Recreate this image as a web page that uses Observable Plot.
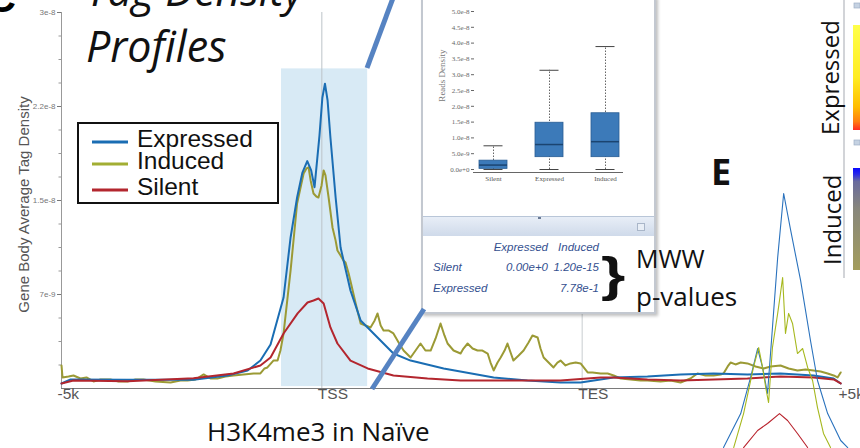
<!DOCTYPE html>
<html><head><meta charset="utf-8">
<script src="https://cdn.jsdelivr.net/npm/d3@7"></script>
<script src="https://cdn.jsdelivr.net/npm/@observablehq/plot@0.6"></script>
<style>
html,body{margin:0;padding:0;background:#fff;}
#wrap{position:relative;width:860px;height:448px;overflow:hidden;font-family:"Liberation Sans",Arial,sans-serif;background:#fff;}
</style></head><body><div id="wrap"></div>
<script>
// ---------- main profile data (x: 0=-5k, 100=TSS, 200=TES, 300=+5k ; v in 1e-9 units)
const xLabelPos = [0, 100, 200, 300];
const xLabelText = ["-5k", "TSS", "TES", "+5k"];
const yTicks = [7.5, 15, 22.5, 30];
const yTickLabels = ["7e-9", "1.5e-8", "2.2e-8", "3e-8"];
const yMinorTicks = [1.875,3.75,5.625,9.375,11.25,13.125,16.875,18.75,20.625,24.375,26.25,28.125];
const seriesNames = ["Expressed", "Induced", "Silent"];
const seriesColors = ["#1a6db3", "#9b9a35", "#b3262e"];
const legendColors = ["#1a6db3", "#a2ae33", "#b3262e"];
const highlight = [{x1: 84.5, x2: 117.6, y1: 0.15, y2: 25.5}];

const expressed = [[0,0.40],[3.5,0.72],[25,0.69],[50.7,0.69],[63.8,1.04],[71.5,1.44],[76.4,2.23],[80.3,3.51],[85.3,7.26],[88,12.05],[90.5,15.24],[92.5,17.2],[94.4,18.14],[95.9,17.4],[97.2,16.06],[99.1,20.19],[100.2,23.2],[101.2,24.32],[102.2,23.0],[103.3,20.03],[105.3,15.24],[107.2,11.25],[111,7.82],[114.9,5.43],[121.3,4.09],[127.5,2.79],[134.1,2.23],[146.8,1.60],[166,0.88],[179,0.64],[191.7,0.48],[199.4,0.48],[212.1,0.88],[225.1,0.96],[237.8,1.12],[250.5,1.20],[263.5,1.12],[276.2,1.20],[288.9,1.04],[296.6,0.80],[299.3,0.40]];

const silent = [[0,0.40],[4.6,0.64],[25.4,0.58],[50.7,0.82],[66.1,1.20],[76.4,1.84],[80.3,2.47],[85.3,4.39],[90.7,5.99],[94.5,6.86],[96.8,7.02],[98.7,7.18],[100.7,6.78],[103.3,4.87],[106,3.59],[111,2.23],[117.6,1.60],[127.5,1.04],[140.6,0.80],[153.3,0.64],[179,0.64],[191.7,0.64],[207.1,0.88],[212.1,0.88],[225.1,0.72],[237.8,0.64],[263.5,0.80],[276.2,0.96],[288.9,0.88],[296.6,0.72],[299.3,0.40]];

const induced = [[0,1.84],[0.4,0.88],[2.7,0.96],[4.6,1.04],[7.3,0.80],[9.6,0.88],[12.3,0.56],[15,0.72],[18.8,0.72],[21.9,0.56],[25.4,0.56],[28.4,0.72],[31.5,0.72],[36.1,0.56],[41.9,0.48],[45.7,0.64],[48.4,0.64],[51.5,0.72],[54.6,1.12],[57.2,0.80],[59.9,0.80],[63,0.96],[66.1,1.04],[69.9,1.12],[73.8,1.20],[76.4,1.20],[78,1.60],[79.1,1.68],[81.4,2.23],[83,2.23],[84.1,3.03],[85.3,4.39],[88,9.42],[90.5,14.76],[93,17.16],[94.1,17.56],[94.9,17.64],[95.7,16.6],[96.8,15.56],[97.9,15.32],[98.7,15.24],[99.9,16.2],[100.7,17.4],[101.4,17.0],[102.6,15.24],[104.1,12.85],[105.3,11.8],[106,11.01],[107.2,10.61],[108.3,10.21],[109.1,10.05],[110.3,9.18],[111.4,8.22],[113,6.78],[114.9,5.19],[116.8,5.03],[118.7,4.87],[120.3,5.43],[121.4,5.99],[122.6,5.03],[123.7,4.63],[125.6,4.63],[127.5,4.39],[129.5,3.67],[131.4,3.03],[134.1,2.47],[136,3.03],[137.9,3.59],[139.8,3.03],[141.8,3.03],[143.7,3.99],[145.6,5.19],[147.1,4.23],[148.3,3.59],[150.6,3.03],[153.3,2.79],[154.4,3.19],[156,3.59],[157.9,3.19],[159.8,3.03],[161.7,3.03],[163.7,2.79],[164.8,2.07],[166,1.44],[167.5,2.07],[168.7,2.47],[170.2,3.03],[171.3,3.59],[172.5,2.87],[173.6,2.23],[175.6,2.63],[177.5,3.03],[179.4,3.67],[180.9,4.23],[182.9,4.07],[184,3.19],[185.2,2.47],[187.1,2.07],[189,1.68],[190.5,2.07],[191.7,2.23],[193.6,1.84],[195.5,2.00],[197.5,2.07],[199.4,2.00],[200.9,1.60],[202.1,1.28],[204,1.28],[207.1,1.20],[209.8,1.20],[212.1,1.04],[214.8,0.80],[218.6,0.72],[222.4,0.64],[225.1,0.64],[230.1,0.56],[234,0.64],[237.8,0.48],[241.6,0.80],[244.3,1.20],[247.4,1.04],[250.5,1.04],[253.2,1.12],[254.3,1.20],[255.9,1.76],[257,2.07],[258.9,1.92],[260.9,2.07],[263.5,2.00],[266.6,1.76],[269.7,1.60],[272.4,1.76],[276.2,1.84],[279.3,1.60],[282.7,1.44],[285.8,1.52],[288.9,1.44],[291.6,1.36],[294.3,1.20],[296.6,1.04],[298.1,0.88],[299.3,1.28]];

// ---------- overlapping panel E profile lines (same scales)
const eExpressed = [[254.3,-4.71],[260.9,-2.0],[264.7,0.88],[267.4,3.19],[269.3,1.68],[271.2,-0.40],[273.1,4.87],[275.1,10.45],[277.4,15.56],[280.1,12.61],[283.9,8.62],[287.7,3.83],[290.4,0.64],[294.3,-2.0],[299.3,-4.15],[302,-4.71]];
const eInduced = [[258.2,-4.71],[262,-2.0],[265.8,1.68],[267.8,3.27],[269.3,1.68],[270.5,0.08],[271.6,-1.12],[273.1,3.27],[275.1,5.99],[275.8,7.02],[277,8.86],[278.1,4.39],[279.3,5.99],[280.8,5.19],[282.7,2.79],[284.7,3.19],[286.6,1.68],[288.5,0.64],[290.4,-1.52],[292.7,-3.59],[295.4,-4.71]];
const eSilent = [[262,-4.71],[267.4,-3.35],[271.2,-2.79],[275.8,-2.0],[278.9,-2.55],[282.7,-3.59],[286.6,-4.71]];
const eColors = ["#2a72bd", "#a6b81e", "#b8222c"];

// ---------- inset box plot data (values in 1e-8)
const boxCats = ["Silent", "Expressed", "Induced"];
const boxMin = [0, 0, 0];
const boxQ1 = [0.02, 0.39, 0.39];
const boxMed = [0.14, 0.79, 0.88];
const boxQ3 = [0.28, 1.48, 1.78];
const boxMax = [0.75, 3.14, 3.89];
const boxTicks = [0, 0.5, 1, 1.5, 2, 2.5, 3, 3.5, 4, 4.5, 5];
const boxTickLabels = ["0.0e+0","5.0e-9","1.0e-8","1.5e-8","2.0e-8","2.5e-8","3.0e-8","3.5e-8","4.0e-8","4.5e-8","5.0e-8"];

// ---------- p-value table
const pCols = ["Expressed", "Induced"];
const pRows = ["Silent", "Expressed"];
const pVals = [["0.00e+0", "1.20e-15"], ["", "7.78e-1"]];

const titleLines = ["Tag Density", "Profiles"];
const heatLabels = ["Expressed", "Induced"];

// ---------- build
const rows = a => a.map(([x, v]) => ({x, v}));
const yLabelMap = new Map(yTicks.map((t, i) => [t, yTickLabels[i]]));
const xLabels = xLabelPos.map((x, i) => ({x, label: xLabelText[i]}));
const seriesData = [expressed, induced, silent];
const drawOrder = [1, 0, 2];
const eData = [eExpressed, eInduced, eSilent];

const mainPlot = Plot.plot({
  width: 860, height: 448,
  marginLeft: 61, marginRight: 18, marginTop: 12, marginBottom: 60,
  style: {fontFamily: "'Liberation Sans', Arial, sans-serif", background: "transparent"},
  x: {domain: [0, 300], axis: null},
  y: {domain: [0, 30], axis: null},
  marks: [
    Plot.rect(highlight, {x1: "x1", x2: "x2", y1: "y1", y2: "y2", fill: "#d8eaf5"}),
    Plot.ruleX([100], {stroke: "#bcc3c8", strokeWidth: 1}),
    Plot.ruleX([200], {stroke: "#c8cdd0", strokeWidth: 1}),
    Plot.ruleX([0], {stroke: "#999", strokeWidth: 1}),
    Plot.axisY({ticks: yTicks, tickFormat: d => yLabelMap.get(d), tickSize: 4, tickPadding: 2, fontSize: 8, color: "#777"}),
    Plot.axisY({ticks: yMinorTicks, tickFormat: () => "", tickSize: 2.5, color: "#999"}),
    Plot.text(["Gene Body Average Tag Density"], {frameAnchor: "left", textAnchor: "middle", rotate: -90, dx: -37, dy: 4, fontSize: 15, fill: "#555"}),
    ...drawOrder.map(i => Plot.line(rows(seriesData[i]), {x: "x", y: "v", stroke: seriesColors[i], strokeWidth: 2})),
    Plot.ruleY([0], {stroke: "#7a7a7a", strokeWidth: 1.2}),
    Plot.text(xLabels, {x: "x", text: "label", frameAnchor: "bottom", dy: 10, dx: -4, textAnchor: "start", fontSize: 15.5, fill: "#555"}),
    ...eData.map((d, i) => Plot.line(rows(d), {x: "x", y: "v", stroke: eColors[i], strokeWidth: 1.1}))
  ]
});
d3.select(mainPlot).style("position", "absolute").style("left", "0px").style("top", "0px");

const wrap = d3.select("#wrap");
wrap.node().appendChild(mainPlot);

// ---------- inset panel
const inset = wrap.append("div")
  .style("position", "absolute").style("left", "421px").style("top", "-4px")
  .style("width", "235px").style("height", "318px").style("box-sizing", "border-box")
  .style("border", "2px solid #c3c8d0").style("background", "#fff")
  .style("box-shadow", "2px 2px 3px rgba(0,0,0,0.25)");

const boxData = boxCats.map((c, i) => ({cat: c, min: boxMin[i], q1: boxQ1[i], med: boxMed[i], q3: boxQ3[i], max: boxMax[i]}));
const boxLabelMap = new Map(boxTicks.map((t, i) => [t, boxTickLabels[i]]));
const boxPlot = Plot.plot({
  width: 229, height: 215,
  marginLeft: 51, marginRight: 29, marginTop: 11, marginBottom: 46,
  style: {fontFamily: "'Liberation Serif', 'Times New Roman', serif", background: "transparent"},
  x: {type: "band", domain: boxCats, paddingInner: 0.5, paddingOuter: 0.08, axis: null},
  y: {domain: [0, 5], axis: null},
  marks: [
    Plot.axisY({ticks: boxTicks, tickFormat: d => boxLabelMap.get(d), tickSize: 3, tickPadding: 2, fontSize: 7, color: "#666", label: null}),
    Plot.text(["Reads Density"], {frameAnchor: "left", textAnchor: "middle", rotate: -90, dx: -32, dy: -15, fontSize: 9, fill: "#777"}),
    Plot.ruleX(boxData, {x: "cat", y1: "min", y2: "max", stroke: "#555", strokeWidth: 0.9, strokeDasharray: "1.5,1.5"}),
    Plot.tickY(boxData, {x: "cat", y: "max", stroke: "#444", strokeWidth: 1, insetLeft: 4.5, insetRight: 4.5}),
    Plot.tickY(boxData, {x: "cat", y: "min", stroke: "#444", strokeWidth: 1, insetLeft: 4.5, insetRight: 4.5}),
    Plot.barY(boxData, {x: "cat", y1: "q1", y2: "q3", fill: "#3c7ab9", stroke: "#285d94", strokeWidth: 0.8}),
    Plot.tickY(boxData, {x: "cat", y: "med", stroke: "#1b4470", strokeWidth: 1.5}),
    Plot.ruleY([0], {dy: 3, stroke: "#666", strokeWidth: 1, insetLeft: -1}),
    Plot.axisX({tickSize: 0, tickPadding: 7, fontSize: 7, color: "#555", label: null})
  ]
});
d3.select(boxPlot).style("position", "absolute").style("left", "0px").style("top", "2px");
inset.node().appendChild(boxPlot);
// separator band of the inset window
inset.append("div")
  .style("position", "absolute").style("left", "0px").style("top", "218px")
  .style("width", "100%").style("height", "19px")
  .style("background", "linear-gradient(#e8eef7,#cfdaea)")
  .style("border-top", "1px solid #b9c6d8");
inset.append("div")
  .style("position", "absolute").style("left", "115px").style("top", "219px")
  .style("width", "3px").style("height", "2px").style("background", "#6a7a95");
inset.append("div")
  .style("position", "absolute").style("left", "214px").style("top", "225px")
  .style("width", "6px").style("height", "6px").style("background", "#e8eef6")
  .style("border", "1px solid #a9b6c9");

// ---------- overlay annotations
const svg = d3.create("svg").attr("width", 860).attr("height", 448)
  .style("position", "absolute").style("left", "0px").style("top", "0px");
const defs = svg.append("defs");
const gExp = defs.append("linearGradient").attr("id", "gExp").attr("x1", 0).attr("y1", 0).attr("x2", 0).attr("y2", 1);
[[0, "#ffff4a"], [0.5, "#ffec22"], [0.78, "#ffbd00"], [0.92, "#ff7d10"], [1, "#ff2a22"]].forEach(([o, c]) => gExp.append("stop").attr("offset", o).attr("stop-color", c));
const gInd = defs.append("linearGradient").attr("id", "gInd").attr("x1", 0).attr("y1", 0).attr("x2", 0).attr("y2", 1);
[[0, "#0808ff"], [0.06, "#2828e8"], [0.13, "#686a9e"], [0.4, "#88877c"], [1, "#a39d5c"]].forEach(([o, c]) => gInd.append("stop").attr("offset", o).attr("stop-color", c));

// panel letter C and title
svg.append("text").attr("x", -13).attr("y", 12).attr("font-family", "'Liberation Sans', Arial").attr("font-weight", "bold").attr("font-size", 40).text("C");
titleLines.forEach((t, i) => svg.append("text").attr("x", 86).attr("y", 6 + i * 56)
  .attr("font-family", "'Open Sans', sans-serif").attr("font-style", "italic").attr("font-size", 43).attr("fill", "#111").text(t));

// legend
svg.append("rect").attr("x", 78).attr("y", 123).attr("width", 200).attr("height", 80)
  .attr("fill", "#fff").attr("stroke", "#111").attr("stroke-width", 2);
const legY = [142, 164, 190], legTextY = [147, 169, 195];
seriesNames.forEach((n, i) => {
  svg.append("line").attr("x1", 92).attr("x2", 128).attr("y1", legY[i]).attr("y2", legY[i]).attr("stroke", legendColors[i]).attr("stroke-width", 3);
  svg.append("text").attr("x", 137).attr("y", legTextY[i]).attr("font-family", "'Liberation Sans', Arial").attr("font-size", 24.5).attr("fill", "#111").text(n);
});

// callout lines
svg.append("line").attr("x1", 367).attr("y1", 68).attr("x2", 393).attr("y2", -2).attr("stroke", "#5683c2").attr("stroke-width", 5);
svg.append("line").attr("x1", 372).attr("y1", 389).attr("x2", 424).attr("y2", 309).attr("stroke", "#5683c2").attr("stroke-width", 5);

// p-value table
const pFont = g => g.attr("font-family", "'Liberation Sans', Arial").attr("font-style", "italic").attr("font-size", 11.5).attr("fill", "#34508f");
const colRight = [548, 599];
pCols.forEach((c, j) => pFont(svg.append("text")).attr("x", colRight[j]).attr("y", 251).attr("text-anchor", "end").text(c));
const rowY = [271, 292];
pRows.forEach((r, i) => {
  pFont(svg.append("text")).attr("x", 433).attr("y", rowY[i]).text(r);
  pVals[i].forEach((v, j) => { if (v) pFont(svg.append("text")).attr("x", colRight[j]).attr("y", rowY[i]).attr("text-anchor", "end").text(v); });
});

// brace + MWW
svg.append("text").attr("transform", "translate(601,291) scale(1.3,1)").attr("font-family", "'Liberation Sans', Arial").attr("font-weight", "bold").attr("font-size", 48).attr("fill", "#111").text("}");
svg.append("text").attr("x", 636).attr("y", 268).attr("font-family", "'Open Sans', sans-serif").attr("font-size", 25).attr("fill", "#111").text("MWW");
svg.append("text").attr("x", 636).attr("y", 306).attr("font-family", "'Open Sans', sans-serif").attr("font-size", 26).attr("fill", "#111").text("p-values");

// panel E
svg.append("text").attr("x", 711).attr("y", 185).attr("font-family", "'Open Sans', sans-serif").attr("font-weight", "bold").attr("font-size", 36).attr("fill", "#111").text("E");

// heatmap side panel
svg.append("line").attr("x1", 844).attr("x2", 844).attr("y1", 0).attr("y2", 278).attr("stroke", "#d2d4d8").attr("stroke-width", 2);
svg.append("rect").attr("x", 853).attr("y", 25).attr("width", 8).attr("height", 105).attr("fill", "url(#gExp)");
svg.append("rect").attr("x", 853).attr("y", 168).attr("width", 8).attr("height", 102).attr("fill", "url(#gInd)");
[3, 140].forEach(y => svg.append("rect").attr("x", 854).attr("y", y).attr("width", 6).attr("height", 5).attr("fill", "#c5d2e2").attr("stroke", "#9fb0c6").attr("stroke-width", 0.7));
const heatPos = [[839, 135], [841, 265]];
heatLabels.forEach((t, i) => svg.append("text").attr("transform", `translate(${heatPos[i][0]},${heatPos[i][1]}) rotate(-90)`)
  .attr("font-family", "'Open Sans', sans-serif").attr("font-size", 24).attr("fill", "#111").text(t));

// bottom caption
svg.append("text").attr("x", 207).attr("y", 441).attr("font-family", "'Open Sans', sans-serif").attr("font-size", 26).attr("fill", "#111").text("H3K4me3 in Naïve");

wrap.node().appendChild(svg.node());
</script></body></html>
